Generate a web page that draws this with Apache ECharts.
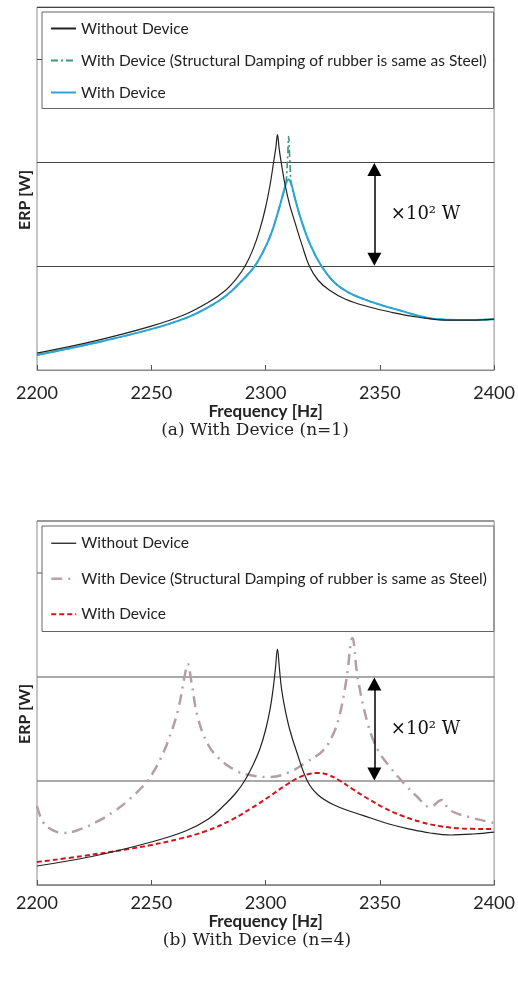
<!DOCTYPE html>
<html>
<head>
<meta charset="utf-8">
<script src="https://cdn.jsdelivr.net/npm/echarts@6/dist/echarts.min.js"></script>
<style>
  html, body { margin: 0; padding: 0; background: #fff; }
  #chart-container { width: 518px; height: 991px; }
</style>
</head>
<body>
<div id="chart-container"></div>
<script>
// ERP [W] vs frequency [Hz] (log scale, arbitrary units: lower grid = 1, upper grid = 100)
var freqTicks = [2200, 2250, 2300, 2350, 2400];
var nameWithout = 'Without Device';
var nameSteel = 'With Device (Structural Damping of rubber is same as Steel)';
var nameWith = 'With Device';

// (a) n=1
var aWithout = [
  [2200, 0.0212], [2225, 0.0361], [2250, 0.0702], [2265, 0.119], [2275, 0.203],
  [2282, 0.331], [2287, 0.562], [2291, 1.0], [2294.5, 2.12], [2297.5, 5.15],
  [2300, 13.6], [2302, 37.8], [2303.5, 100], [2304.5, 194], [2305.2, 345],
  [2306, 178], [2307, 91.6], [2308.5, 37.8], [2310.5, 15.6], [2313, 6.71],
  [2316, 2.53], [2319.2, 1.0], [2323, 0.538], [2328, 0.345], [2335, 0.232],
  [2345, 0.166], [2355, 0.130], [2367, 0.104], [2379, 0.0916], [2390, 0.0916],
  [2400, 0.0957]
];
var aWith = [
  [2200, 0.0194], [2225, 0.0331], [2250, 0.0614], [2265, 0.1], [2275, 0.163],
  [2283, 0.277], [2289, 0.492], [2295.2, 1.0], [2299, 1.94], [2302.5, 4.31],
  [2305, 9.57], [2307, 19.4], [2308.8, 37.8], [2310, 47.1], [2311.3, 37.8],
  [2313, 19.4], [2315.5, 8.01], [2319.5, 2.65], [2324.5, 1.0], [2330, 0.492],
  [2336, 0.316], [2343, 0.232], [2350, 0.182], [2358.5, 0.142], [2366, 0.114],
  [2373, 0.0977], [2385, 0.0916], [2400, 0.0957]
];
var aSteel = [
  [2200, 0.0194], [2225, 0.0331], [2250, 0.0614], [2265, 0.1], [2275, 0.163],
  [2283, 0.277], [2289, 0.492], [2295.2, 1.0], [2299, 1.94], [2302.5, 4.31],
  [2305, 9.57], [2307, 19.4], [2308.8, 37.8], [2309.6, 114], [2310.1, 316],
  [2310.6, 114], [2311.3, 37.8], [2313, 19.4], [2315.5, 8.01], [2319.5, 2.65],
  [2324.5, 1.0], [2330, 0.492], [2336, 0.316], [2343, 0.232], [2350, 0.182],
  [2358.5, 0.142], [2366, 0.114], [2373, 0.0977], [2385, 0.0916], [2400, 0.0957]
];

// (b) n=4
var bWithout = [
  [2200, 0.0232], [2225, 0.0361], [2250, 0.0671], [2265, 0.109], [2275, 0.186],
  [2282, 0.345], [2287, 0.588], [2290.8, 1.0], [2294.5, 2.03], [2297.5, 4.12],
  [2300, 9.57], [2302, 24.3], [2303.3, 58.8], [2304.3, 143], [2305.2, 345],
  [2306, 156], [2307, 58.8], [2308.5, 24.3], [2310.5, 10], [2313.5, 3.77],
  [2318.3, 1.0], [2323, 0.538], [2330, 0.345], [2338, 0.253], [2346, 0.194],
  [2354, 0.149], [2363, 0.119], [2372, 0.1], [2381, 0.0916], [2391, 0.0957],
  [2400, 0.104]
];
var bSteel = [
  [2200, 0.331], [2202.6, 0.163], [2206, 0.119], [2211.4, 0.1], [2218, 0.114],
  [2226, 0.163], [2234, 0.265], [2240.6, 0.451], [2248, 0.956], [2250.7, 1.43],
  [2254, 2.65], [2257.2, 5.62], [2261.6, 22.2], [2264.6, 104.5], [2265.9, 178],
  [2267.7, 73.3], [2270.3, 17.0], [2274.7, 5.15], [2279.9, 2.65], [2287.3, 1.56],
  [2293, 1.30], [2301.7, 1.19], [2310.5, 1.49], [2317.9, 2.32], [2324.9, 3.77],
  [2329, 7.02], [2332.3, 17.8], [2335.4, 91.6], [2338, 562], [2340.2, 104.5],
  [2344.5, 13.6], [2348.9, 4.12], [2354.1, 1.94], [2361.6, 0.80], [2366, 0.515],
  [2372, 0.316], [2377, 0.431], [2380.5, 0.277], [2389, 0.203], [2398, 0.163],
  [2400, 0.156]
];
var bWith = [
  [2200, 0.0277], [2220, 0.0361], [2240, 0.0492], [2250, 0.0588], [2262, 0.0767],
  [2274, 0.109], [2285, 0.178], [2294, 0.303], [2302, 0.515], [2309, 0.838],
  [2315, 1.19], [2320, 1.39], [2323, 1.43], [2327, 1.33], [2332, 1.045],
  [2338, 0.702], [2345, 0.451], [2352, 0.303], [2360, 0.212], [2368, 0.163],
  [2376, 0.136], [2386, 0.122], [2400, 0.119]
];

// the "x10^2 W" double arrow between the two grid lines
var arrowFreq = 2347.6;
var arrowLow = 1.36;
var arrowHigh = 73.3;
var arrowText = '×10² W';
var arrowTextAt = 10;

var dom = document.getElementById('chart-container');
var myChart = echarts.init(dom, null, { renderer: 'canvas' });

var sans = 'Lato';
var serif = 'DejaVu Serif';

function xAxisFor(gridIndex, labelMargin, nameGap) {
  return {
    type: 'value',
    gridIndex: gridIndex,
    min: freqTicks[0],
    max: freqTicks[freqTicks.length - 1],
    interval: 50,
    axisLine: { show: true, lineStyle: { color: '#8a8a8a', width: 1 } },
    axisTick: { show: true, inside: true, length: 5, lineStyle: { color: '#555' } },
    splitLine: { show: false },
    axisLabel: {
      margin: labelMargin,
      fontFamily: sans,
      fontSize: 18,
      color: '#222',
      showMinLabel: true,
      showMaxLabel: true,
      formatter: function (v) { return String(v); }
    },
    name: 'Frequency [Hz]',
    nameLocation: 'middle',
    nameGap: nameGap,
    nameTextStyle: { fontFamily: sans, fontSize: 17, fontWeight: 'bold', color: '#222' }
  };
}

function yAxisFor(gridIndex, gridColor, gridWidth) {
  return {
    type: 'log',
    logBase: 100,
    gridIndex: gridIndex,
    min: 0.01,
    max: 100000,
    axisLine: { show: false },
    axisTick: { show: false },
    axisLabel: { show: false },
    splitLine: { show: true, lineStyle: { color: gridColor, width: gridWidth } }
  };
}

function arrowMarks() {
  return {
    markLine: {
      silent: true,
      symbol: ['triangle', 'triangle'],
      symbolSize: [14, 13],
      label: { show: false },
      lineStyle: { color: '#000', width: 1.5, type: 'solid' },
      data: [[{ coord: [arrowFreq, arrowLow] }, { coord: [arrowFreq, arrowHigh] }]]
    },
    markPoint: {
      silent: true,
      data: [{
        coord: [arrowFreq, arrowTextAt],
        symbol: 'circle',
        symbolSize: 1,
        itemStyle: { color: 'rgba(0,0,0,0)' },
        label: {
          show: true,
          position: 'right',
          distance: 16,
          formatter: arrowText,
          fontFamily: serif,
          fontSize: 18,
          color: '#111'
        }
      }]
    }
  };
}

function lineSeries(name, data, axis, color, width, type, extra) {
  var s = {
    name: name,
    type: 'line',
    xAxisIndex: axis,
    yAxisIndex: axis,
    data: data,
    symbol: 'none',
    smooth: 0.4,
    silent: true,
    lineStyle: { color: color, width: width, type: type },
    itemStyle: { color: color }
  };
  if (extra) {
    for (var k in extra) s[k] = extra[k];
  }
  return s;
}

var legendBase = {
  orient: 'vertical',
  left: 42,
  itemWidth: 25,
  itemHeight: 14,
  borderColor: '#666',
  borderWidth: 1,
  backgroundColor: '#fff',
  itemStyle: { opacity: 0 },
  textStyle: { fontFamily: sans, fontSize: 15.5, color: '#222' }
};

var option = {
  animation: false,
  grid: [
    { left: 37, right: 23, top: 7, height: 363, show: true, borderColor: '#8a8a8a', borderWidth: 1 },
    { left: 37, right: 23, top: 521, height: 364, show: true, borderColor: '#8a8a8a', borderWidth: 1 }
  ],
  xAxis: [xAxisFor(0, 14, 31), xAxisFor(1, 9, 26)],
  yAxis: [yAxisFor(0, '#444', 1), yAxisFor(1, '#8c8c8c', 1.5)],
  legend: [
    Object.assign({}, legendBase, {
      top: 12,
      itemGap: 16,
      padding: [8.5, 7, 8, 8],
      data: [nameWithout, nameSteel, nameWith]
    }),
    Object.assign({}, legendBase, {
      top: 526,
      itemGap: 19.5,
      padding: [9.25, 7, 9.25, 8],
      data: [
        { name: nameWithout, lineStyle: { color: '#222', width: 1.3, type: 'solid' } },
        { name: nameSteel, lineStyle: { color: '#b8a2a6', width: 2.5, type: [11, 6, 2, 6] } },
        { name: nameWith, lineStyle: { color: '#d3141c', width: 2, type: [5, 3] } }
      ]
    })
  ],
  title: [
    {
      text: '(a) With Device (n=1)',
      left: 255, top: 422, padding: 0, textAlign: 'center',
      textStyle: { fontFamily: serif, fontSize: 17, fontWeight: 'normal', color: '#222' }
    },
    {
      text: '(b) With Device (n=4)',
      left: 257, top: 932, padding: 0, textAlign: 'center',
      textStyle: { fontFamily: serif, fontSize: 17, fontWeight: 'normal', color: '#222' }
    }
  ],
  graphic: [
    {
      type: 'text', x: 25, y: 200, rotation: Math.PI / 2,
      style: { text: 'ERP [W]', font: 'bold 16px Lato', fill: '#222', align: 'center', verticalAlign: 'middle' }
    },
    {
      type: 'text', x: 25, y: 714, rotation: Math.PI / 2,
      style: { text: 'ERP [W]', font: 'bold 16px Lato', fill: '#222', align: 'center', verticalAlign: 'middle' }
    }
  ],
  series: [
    lineSeries(nameSteel, aSteel, 0, '#3a9a78', 1.6, [7, 3, 2, 3]),
    lineSeries(nameWith, aWith, 0, '#2aa6d6', 2, 'solid'),
    lineSeries(nameWithout, aWithout, 0, '#222', 1.2, 'solid', arrowMarks()),
    lineSeries(nameSteel, bSteel, 1, '#b4a0a4', 2.5, [11, 6, 2, 6]),
    lineSeries(nameWith, bWith, 1, '#d3141c', 2, [5, 3]),
    lineSeries(nameWithout, bWithout, 1, '#222', 1.2, 'solid', arrowMarks())
  ]
};

if (option && typeof option === 'object') {
  myChart.setOption(option);
}

window.addEventListener('resize', myChart.resize);
</script>
</body>
</html>
